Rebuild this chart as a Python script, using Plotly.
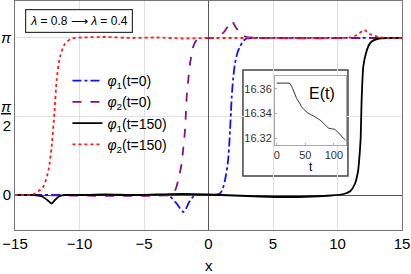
import numpy as np
import plotly.graph_objects as go

PI = np.pi

# phi_1 at t=0 (blue dash-dot)
x_p1_t0 = [-15, -4, -3.3, -2.98, -2.47, -2.2, -1.95, -1.75, -1.56, -1.18, -0.9, 0.5, 0.89, 1.1, 1.28,
           1.45, 1.54, 1.62, 1.67, 1.74, 1.8, 1.92, 2.05, 2.25, 2.44, 2.7, 2.96, 3.5, 15]
y_p1_t0 = [0, 0, 0, -0.03, -0.17, -0.27, -0.34, -0.28, -0.17, -0.03, 0, 0, 0.03, 0.12, 0.3,
           0.55, 0.75, 1.05, 1.3, 1.65, 1.97, 2.35, 2.63, 2.85, 2.97, 3.08, 3.13, 3.14, 3.14]

# phi_2 at t=0 (purple dashed)
x_p2_t0 = [-15, -3, -2.73, -2.5, -2.34, -2.2, -2.08, -1.95, -1.82, -1.75, -1.69, -1.55, -1.43, -1.3,
           -1.18, -1.0, -0.79, -0.4, 0.4, 0.76, 1.2, 1.5, 1.8, 2.1, 2.5, 2.96, 4, 15]
y_p2_t0 = [0, 0, 0.03, 0.15, 0.3, 0.47, 0.63, 0.95, 1.3, 1.65, 1.97, 2.35, 2.63, 2.83,
           2.97, 3.07, 3.13, 3.14, 3.14, 3.17, 3.26, 3.37, 3.48, 3.36, 3.22, 3.16, 3.14, 3.14]

# phi_1 at t=150 (black solid)
x_p1_t150 = [-15, -13.5, -12.9, -12.5, -12.16, -11.9, -11.6, -11.2, -10, -8, -6, -4, -2, 0, 2, 4, 6, 8,
             9.5, 10.5, 11.0, 11.36, 11.6, 11.74, 11.8, 11.87, 12.0, 12.2, 12.4, 12.65, 13.2, 14, 15]
y_p1_t150 = [0, 0, -0.03, -0.1, -0.17, -0.1, -0.03, 0, 0, 0.01, 0, 0.01, 0.02, 0.01, -0.01, -0.03, -0.04, -0.03,
             -0.01, 0.02, 0.08, 0.23, 0.49, 0.9, 1.16, 1.9, 2.57, 2.83, 2.98, 3.07, 3.13, 3.14, 3.14]

# phi_2 at t=150 (red dotted)
x_p2_t150 = [-15, -13.8, -13.45, -12.8, -12.4, -12.16, -11.95, -11.77, -11.51, -11.12, -10.6, -9.83, -8, -6,
             -4, -2, 0, 2, 4, 8, 10, 11.0, 11.5, 12.08, 12.5, 13.2, 14, 15]
y_p2_t150 = [0, 0, 0.03, 0.17, 0.5, 0.97, 1.63, 2.3, 2.77, 3.03, 3.13, 3.15, 3.16, 3.14,
             3.15, 3.13, 3.14, 3.14, 3.14, 3.14, 3.14, 3.15, 3.2, 3.3, 3.22, 3.16, 3.14, 3.14]

# inset: energy E(t)
t_vals = [0, 10, 20, 23, 27, 31, 35, 40, 44, 48, 54, 60, 66, 71, 76, 82, 87, 91, 96, 102, 106, 111, 115, 119, 121]
E_vals = [16.3646, 16.3646, 16.3646, 16.3644, 16.361, 16.3565, 16.352, 16.3484, 16.345, 16.343, 16.3405,
          16.339, 16.3375, 16.336, 16.3345, 16.332, 16.3295, 16.328, 16.3275, 16.327, 16.325, 16.323,
          16.3205, 16.319, 16.318]

x_ticks = [-15, -10, -5, 0, 5, 10, 15]
y_tickvals = [0, PI / 2, PI]
y_ticktext = ["0", "<u><i>π</i></u><br>2", "<i>π</i>"]
inset_xticks = [0, 50, 100]
inset_yticks = [16.32, 16.34, 16.36]

FONT = "Liberation Sans, Arial, sans-serif"

fig = go.Figure()
sm = 0.6
fig.add_trace(go.Scatter(x=x_p1_t0, y=y_p1_t0, mode="lines", name="<i>φ</i><sub>1</sub>(t=0)",
                         line=dict(color="#1010ff", width=1.8, dash="dashdot", shape="spline", smoothing=sm)))
fig.add_trace(go.Scatter(x=x_p2_t0, y=y_p2_t0, mode="lines", name="<i>φ</i><sub>2</sub>(t=0)",
                         line=dict(color="#850f85", width=1.8, dash="dash", shape="spline", smoothing=sm)))
fig.add_trace(go.Scatter(x=x_p1_t150, y=y_p1_t150, mode="lines", name="<i>φ</i><sub>1</sub>(t=150)",
                         line=dict(color="black", width=1.8, shape="spline", smoothing=sm)))
fig.add_trace(go.Scatter(x=x_p2_t150, y=y_p2_t150, mode="lines", name="<i>φ</i><sub>2</sub>(t=150)",
                         line=dict(color="#ff1a1a", width=1.8, dash="dot", shape="spline", smoothing=sm)))

fig.add_trace(go.Scatter(x=t_vals, y=E_vals, mode="lines", xaxis="x2", yaxis="y2", showlegend=False,
                         line=dict(color="#222", width=1, shape="spline", smoothing=0.4)))

# inset frame (white box) drawn under the main curves
fig.add_shape(type="rect", xref="x", yref="y", x0=2.67, x1=10.81, y0=0.38, y1=2.5,
              fillcolor="white", line=dict(color="#444", width=1.5), layer="below")

fig.update_layout(
    width=411, height=274,
    margin=dict(l=15, r=9, t=1, b=44),
    paper_bgcolor="white", plot_bgcolor="white",
    font=dict(family=FONT, color="black"),
    xaxis=dict(range=[-15, 15], tickvals=x_ticks, showgrid=True, gridcolor="#e0e0e0", gridwidth=1,
               zeroline=True, zerolinecolor="#555", zerolinewidth=1, automargin=False,
               showline=True, linecolor="#777", linewidth=1, mirror=True, ticks="",
               tickfont=dict(size=15)),
    yaxis=dict(range=[-0.70, 3.88], tickvals=y_tickvals, ticktext=y_ticktext, showgrid=True,
               gridcolor="#e0e0e0", zeroline=True, zerolinecolor="#555", zerolinewidth=1,
               showline=True, linecolor="#777", linewidth=1, mirror=True, ticks="", automargin=False,
               tickfont=dict(size=15)),
    xaxis2=dict(domain=[0.672, 0.855], anchor="y2", range=[-3, 121], tickvals=inset_xticks,
                showgrid=False, zeroline=False, showline=True, linecolor="#aaa", mirror=True,
                ticks="inside", ticklen=2, tickcolor="#aaa", tickfont=dict(size=11, color="#333"),
                automargin=False),
    yaxis2=dict(domain=[0.371, 0.672], anchor="x2", range=[16.3143, 16.3703], tickvals=inset_yticks,
                tickformat=".2f", showgrid=False, zeroline=False, showline=True, linecolor="#aaa",
                mirror=True, ticks="inside", ticklen=2, tickcolor="#aaa", automargin=False,
                tickfont=dict(size=11, color="#333")),
    legend=dict(x=0.1355, y=0.72, xanchor="left", yanchor="top", bgcolor="rgba(0,0,0,0)",
                font=dict(size=14), itemwidth=30, tracegroupgap=0),
    showlegend=True,
)

fig.add_annotation(xref="paper", yref="paper", x=0.5, y=(230 - 265) / 229, xanchor="center", yanchor="middle",
                   text="x", showarrow=False, font=dict(size=15, color="black"))
fig.add_annotation(xref="paper", yref="paper", x=(311 - 15) / 387, y=(230 - 167) / 229, xanchor="center",
                   yanchor="middle", text="t", showarrow=False, font=dict(size=12, color="black"))
fig.add_annotation(xref="paper", yref="paper", x=(322 - 15) / 387, y=(230 - 93) / 229, xanchor="center",
                   yanchor="middle", text="E(t)", showarrow=False, font=dict(size=16, color="black"))
fig.add_annotation(xref="paper", yref="paper", x=(79 - 15) / 387, y=(230 - 20.5) / 229, xanchor="center",
                   yanchor="middle", text="<i>λ</i> = 0.8 ⟶ <i>λ</i> = 0.4",
                   showarrow=False, font=dict(size=12, color="black"), bordercolor="#333", borderwidth=1.2,
                   borderpad=4, bgcolor="white")

fig.write_html("out.html", config={"displayModeBar": False},
               post_script="document.body.style.margin='0px';")
